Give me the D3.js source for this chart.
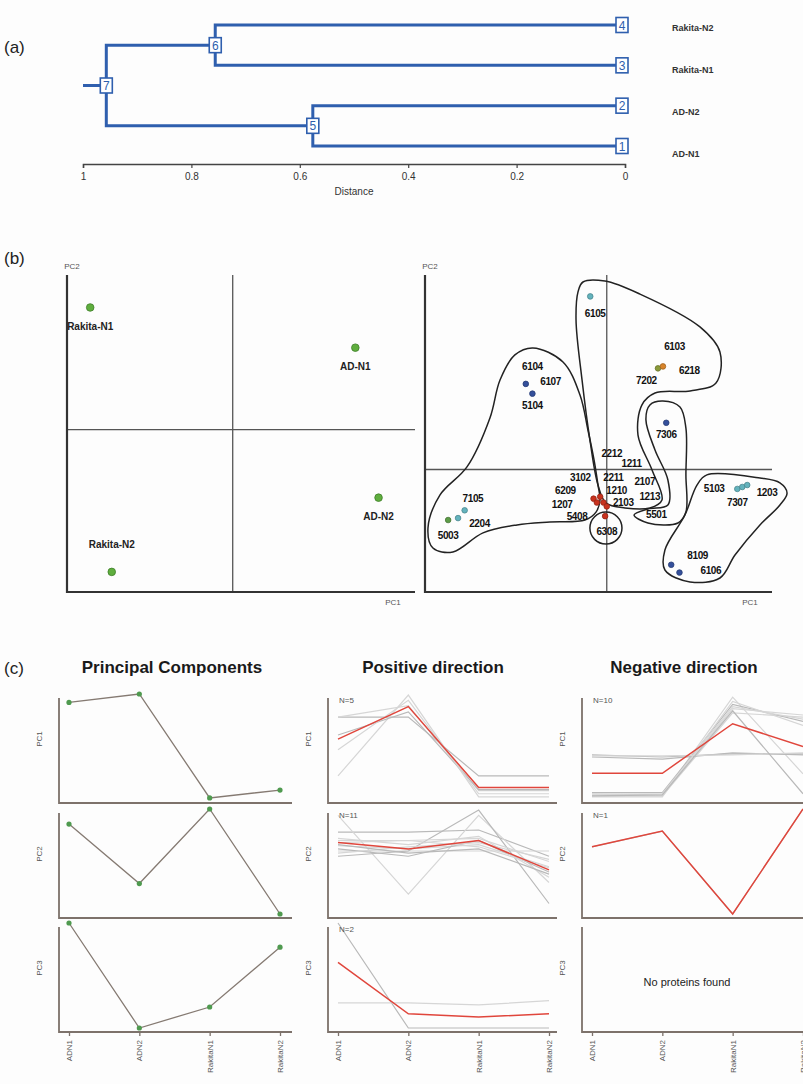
<!DOCTYPE html>
<html>
<head>
<meta charset="utf-8">
<script src="https://cdn.jsdelivr.net/npm/d3@7"></script>
<style>
  body { margin: 0; background: #fff; }
  text { font-family: "Liberation Sans", Arial, sans-serif; }
</style>
</head>
<body>
<svg id="fig" width="803" height="1084"></svg>
<script>
// ---------- (a) dendrogram data
const leafNames = ["Rakita-N2", "Rakita-N1", "AD-N2", "AD-N1"];
const leafIds = [4, 3, 2, 1];
const mergeIds = [5, 6, 7];
const mergeLeft = [2, 4, 6];
const mergeRight = [1, 3, 5];
const mergeHeight = [0.576, 0.756, 0.957];
const distTicks = [1, 0.8, 0.6, 0.4, 0.2, 0];

// ---------- (b) sample PCA
const sampleNames = ["Rakita-N1", "AD-N1", "AD-N2", "Rakita-N2"];
const samplePC1 = [-0.86, 0.74, 0.88, -0.73];
const samplePC2 = [0.79, 0.53, -0.44, -0.92];
const sampleLabelDy = [20, 19, 19, -27];

// ---------- (b) protein spot PCA
const spotPC1 = [-0.10, -0.49, -0.45, 0.31, 0.34, 0.36, -0.86, -0.90, -0.96, -0.08, -0.04, -0.02, -0.06, 0.00, -0.01, 0.79, 0.82, 0.85, 0.39, 0.44];
const spotPC2 = [0.89, 0.44, 0.39, 0.52, 0.53, 0.24, -0.21, -0.25, -0.26, -0.15, -0.14, -0.17, -0.17, -0.19, -0.24, -0.10, -0.09, -0.08, -0.49, -0.53];
const spotGroup = ["cyan", "blue", "blue", "olive", "orange", "blue", "cyan", "cyan", "green", "red", "red", "red", "red", "red", "red", "cyan", "cyan", "cyan", "blue", "blue"];
const spotLabels = ["6105", "6104", "6107", "5104", "6103", "6218", "7202", "7306", "7105", "2204", "5003", "2212", "1211", "3102", "2211", "2107", "6209", "1210", "1213", "1207", "2103", "5408", "5501", "6308", "5103", "1203", "7307", "8109", "6106"];
const spotLabelPC1 = [-0.07, -0.45, -0.34, -0.45, 0.41, 0.50, 0.24, 0.36, -0.81, -0.77, -0.96, 0.03, 0.15, -0.16, 0.04, 0.23, -0.25, 0.06, 0.26, -0.27, 0.10, -0.18, 0.30, 0.00, 0.65, 0.97, 0.79, 0.55, 0.63];
const spotLabelPC2 = [0.80, 0.53, 0.45, 0.33, 0.63, 0.51, 0.46, 0.18, -0.15, -0.28, -0.34, 0.08, 0.03, -0.04, -0.04, -0.06, -0.11, -0.11, -0.14, -0.18, -0.17, -0.24, -0.23, -0.32, -0.10, -0.12, -0.17, -0.44, -0.52];

// hand drawn cluster outlines (PC1, PC2)
const outlineLeft = [[-0.447,0.625],[-0.265,0.553],[-0.162,0.383],[-0.114,0.203],[-0.077,0.049],[-0.053,-0.080],[-0.041,-0.157],[-0.065,-0.219],[-0.132,-0.260],[-0.344,-0.270],[-0.543,-0.285],[-0.749,-0.326],[-0.931,-0.424],[-1.052,-0.404],[-1.082,-0.301],[-1.009,-0.131],[-0.846,0.013],[-0.707,0.265],[-0.646,0.460],[-0.556,0.589]];
const outlineTop = [[-0.174,0.913],[-0.144,0.964],[-0.011,0.969],[0.201,0.902],[0.564,0.733],[0.685,0.604],[0.661,0.445],[0.504,0.404],[0.292,0.393],[0.213,0.332],[0.189,0.177],[0.274,-0.003],[0.334,-0.157],[0.261,-0.198],[0.110,-0.198],[-0.005,-0.172],[-0.053,-0.080],[-0.102,0.152],[-0.150,0.463],[-0.186,0.769]];
const outlineMid = [[0.340,0.352],[0.443,0.321],[0.479,0.213],[0.479,-0.028],[0.479,-0.219],[0.431,-0.275],[0.249,-0.275],[0.165,-0.234],[0.249,-0.203],[0.370,-0.183],[0.370,-0.054],[0.292,0.100],[0.237,0.255],[0.261,0.332]];
const outlineRight = [[0.606,-0.028],[0.927,-0.044],[1.048,-0.069],[1.091,-0.121],[1.048,-0.183],[0.927,-0.285],[0.776,-0.440],[0.685,-0.558],[0.504,-0.578],[0.352,-0.517],[0.352,-0.414],[0.473,-0.234],[0.546,-0.080]];
const ringCentre = [-0.005, -0.301];
const ringRadius = 0.097;

// ---------- (c) profiles
const conditions = ["ADN1", "ADN2", "RakitaN1", "RakitaN2"];
const pcNames = ["PC1", "PC2", "PC3"];
const pcProfiles = [[0.92, 1.0, 0.01, 0.085], [0.856, 0.29, 1.0, 0.0], [1.0, 0.0, 0.2, 0.77]];
const posCounts = [5, 11, 2];
const posMean = [[0.57, 0.88, 0.11, 0.11], [0.68, 0.62, 0.70, 0.42], [0.625, 0.135, 0.105, 0.135]];
const posMembers = [
  [[0.78,0.78,0.22,0.22],[0.22,0.99,0.02,0.02],[0.78,0.89,0.08,0.08],[0.61,0.83,0.09,0.09],[0.47,0.94,0.05,0.05]],
  [[0.78,0.78,0.80,0.55],[0.60,0.60,0.60,0.60],[0.94,0.19,0.94,0.30],[0.55,0.60,0.99,0.10],[0.70,0.70,0.72,0.50],[0.65,0.62,0.66,0.45],[0.62,0.55,0.70,0.40],[0.72,0.66,0.74,0.35],[0.58,0.64,0.68,0.52],[0.66,0.58,0.62,0.38],[0.68,0.70,0.64,0.44]],
  [[1.0,0.0,0.0,0.0],[0.24,0.24,0.22,0.26]]
];
const negCounts = [10, 1, 0];
const negMean = [[0.245, 0.245, 0.717, 0.50], [0.64, 0.79, 0.0, 1.0], null];
const negMembers = [
  [[0.42,0.40,0.43,0.43],[0.03,0.03,0.97,0.24],[0.03,0.03,0.82,0.78],[0.06,0.06,0.90,0.74],[0.05,0.04,0.86,0.80],[0.02,0.02,0.93,0.70],[0.40,0.38,0.44,0.42],[0.04,0.05,0.88,0.76],[0.41,0.41,0.42,0.44],[0.03,0.04,0.84,0.05]],
  [[0.64,0.79,0.0,1.0]],
  []
];

const svg = d3.select("#fig");
svg.append("rect").attr("width", 803).attr("height", 1084).attr("fill", "#fdfdfd");

const panelLetter = (txt, x, y) => svg.append("text").attr("x", x).attr("y", y)
  .attr("font-size", 17).attr("fill", "#222").text(txt);
panelLetter("(a)", 4, 53);
panelLetter("(b)", 4, 264);
panelLetter("(c)", 4, 674);

// ================= (a)
const blue = "#2f5fae";
const xD = d3.scaleLinear().domain([1, 0]).range([83, 625]);
const yD = d3.scalePoint().domain(leafIds).range([25, 146]);
const yLab = d3.scalePoint().domain(leafIds).range([27, 153]);
const nodes = new Map();
leafIds.forEach(id => nodes.set(id, { x: xD(0), y: yD(id) }));
mergeIds.forEach((id, i) => {
  const a = nodes.get(mergeLeft[i]), b = nodes.get(mergeRight[i]);
  nodes.set(id, { x: xD(mergeHeight[i]), y: (a.y + b.y) / 2 });
});
const gA = svg.append("g");
mergeIds.forEach((id, i) => {
  const n = nodes.get(id), a = nodes.get(mergeLeft[i]), b = nodes.get(mergeRight[i]);
  gA.append("path").attr("d", `M${a.x},${a.y}H${n.x}V${b.y}H${b.x}`)
    .attr("fill", "none").attr("stroke", blue).attr("stroke-width", 3);
});
const root = nodes.get(7);
gA.append("line").attr("x1", xD(1)).attr("x2", root.x).attr("y1", root.y).attr("y2", root.y)
  .attr("stroke", blue).attr("stroke-width", 3);
nodes.forEach((n, id) => {
  const cx = leafIds.includes(id) ? n.x - 3 : n.x;
  gA.append("rect").attr("x", cx - 6).attr("y", n.y - 7.5).attr("width", 12).attr("height", 15)
    .attr("fill", "#fff").attr("stroke", blue).attr("stroke-width", 1.6);
  gA.append("text").attr("x", cx).attr("y", n.y + 4.5).attr("text-anchor", "middle")
    .attr("font-size", 12).attr("fill", blue).text(id);
});
leafIds.forEach((id, i) => {
  gA.append("text").attr("x", 672).attr("y", yLab(id) + 3.5)
    .attr("font-family", "DejaVu Sans Condensed").attr("font-weight", "bold")
    .attr("font-size", 9).attr("fill", "#333").text(leafNames[i]);
});
const axA = gA.append("g").attr("transform", "translate(0,164)")
  .call(d3.axisBottom(xD).tickValues(distTicks).tickSize(4).tickFormat(d3.format("~g")));
axA.select(".domain").attr("stroke", "#444").attr("stroke-width", 1.5);
axA.selectAll(".tick line").attr("stroke", "#444").attr("stroke-width", 1.2);
axA.selectAll(".tick text").attr("font-family", "DejaVu Sans Mono").attr("font-size", 10).attr("fill", "#333").attr("dy", "0.9em");
gA.append("text").attr("x", 354).attr("y", 195).attr("text-anchor", "middle")
  .attr("font-family", "DejaVu Sans Mono").attr("font-size", 10).attr("fill", "#333").text("Distance");

// ================= (b) left
function pcaFrame(x, y, left, right, top, bottom) {
  const g = svg.append("g");
  g.append("line").attr("x1", x(0)).attr("x2", x(0)).attr("y1", top).attr("y2", bottom).attr("stroke", "#555").attr("stroke-width", 1.3);
  g.append("line").attr("x1", left).attr("x2", right).attr("y1", y(0)).attr("y2", y(0)).attr("stroke", "#555").attr("stroke-width", 1.3);
  g.append("path").attr("d", `M${left},${top}V${bottom}H${right}`).attr("fill", "none").attr("stroke", "#333").attr("stroke-width", 2.2);
  g.append("text").attr("x", left + 5).attr("y", top - 6).attr("text-anchor", "middle")
    .attr("font-family", "DejaVu Sans Condensed").attr("font-size", 8).attr("fill", "#555").text("PC2");
  g.append("text").attr("x", right - 22).attr("y", bottom + 13).attr("text-anchor", "middle")
    .attr("font-family", "DejaVu Sans Condensed").attr("font-size", 8).attr("fill", "#555").text("PC1");
  return g;
}
const xL = d3.scaleLinear().domain([-1, 1.1]).range([67, 415]);
const yL = d3.scaleLinear().domain([-1.05, 1]).range([592, 275]);
const gL = pcaFrame(xL, yL, 67, 415, 275, 592);
sampleNames.forEach((s, i) => {
  gL.append("circle").attr("cx", xL(samplePC1[i])).attr("cy", yL(samplePC2[i])).attr("r", 3.8)
    .attr("fill", "#5fae3e").attr("stroke", "#3f7f2a").attr("stroke-width", 0.8);
  gL.append("text").attr("x", xL(samplePC1[i])).attr("y", yL(samplePC2[i]) + sampleLabelDy[i] + 3)
    .attr("text-anchor", "middle").attr("font-family", "DejaVu Sans Condensed").attr("font-weight", "bold")
    .attr("font-size", 10).attr("fill", "#222").text(s);
});

// ================= (b) right
const spotColours = { cyan: "#63b3bd", blue: "#34509c", olive: "#8a9a3a", orange: "#d8842a", green: "#5d9c48", red: "#c8321e" };
const xR = d3.scaleLinear().domain([-1.1, 1.0]).range([425, 772]);
const yR = d3.scaleLinear().domain([-0.63, 1.0]).range([592, 275]);
const gR = pcaFrame(xR, yR, 425, 772, 275, 592);
const outlineLine = d3.line().x(d => xR(d[0])).y(d => yR(d[1])).curve(d3.curveCatmullRomClosed.alpha(0.5));
[outlineLeft, outlineTop, outlineMid, outlineRight].forEach(o => {
  gR.append("path").attr("d", outlineLine(o)).attr("fill", "none").attr("stroke", "#222").attr("stroke-width", 1.5);
});
gR.append("circle").attr("cx", xR(ringCentre[0])).attr("cy", yR(ringCentre[1]))
  .attr("r", xR(ringRadius) - xR(0)).attr("fill", "none").attr("stroke", "#222").attr("stroke-width", 1.5);
spotPC1.forEach((v, i) => {
  const c = d3.color(spotColours[spotGroup[i]]);
  gR.append("circle").attr("cx", xR(v)).attr("cy", yR(spotPC2[i])).attr("r", 2.8)
    .attr("fill", c).attr("stroke", c.darker(0.8)).attr("stroke-width", 0.8);
});
spotLabels.forEach((s, i) => {
  gR.append("text").attr("x", xR(spotLabelPC1[i])).attr("y", yR(spotLabelPC2[i]) + 3.5)
    .attr("text-anchor", "middle").attr("font-family", "DejaVu Sans Condensed").attr("font-weight", "bold")
    .attr("font-size", 10).attr("letter-spacing", -0.4).attr("fill", "#111").text(s);
});

// ================= (c)
const colAxisX = [59, 328, 582];
const colEnd = [292, 557, 810];
const colTitle = ["Principal Components", "Positive direction", "Negative direction"];
const colTitleX = [172, 433, 684];
const rowTop = [694, 809, 923];
const axisCol = "#7d726b";

colAxisX.forEach((ax, c) => {
  svg.append("text").attr("x", colTitleX[c]).attr("y", 673).attr("text-anchor", "middle")
    .attr("font-weight", "bold").attr("font-size", 17).attr("fill", "#1a1a1a").text(colTitle[c]);
  const xs = d3.scalePoint().domain(conditions).range([ax + 10, ax + 221]);
  rowTop.forEach((top, r) => {
    const ys = d3.scaleLinear().domain([0, 1]).range([top + 105, top]);
    const g = svg.append("g");
    const line = d3.line().x((d, i) => xs(conditions[i])).y(d => ys(d));
    if (c === 0) {
      g.append("path").attr("d", line(pcProfiles[r])).attr("fill", "none").attr("stroke", "#857a72").attr("stroke-width", 1.3);
      pcProfiles[r].forEach((v, i) => g.append("circle").attr("cx", xs(conditions[i])).attr("cy", ys(v)).attr("r", 2.6).attr("fill", "#4f9a4f"));
    } else {
      const members = c === 1 ? posMembers[r] : negMembers[r];
      const mean = c === 1 ? posMean[r] : negMean[r];
      const n = c === 1 ? posCounts[r] : negCounts[r];
      members.forEach((m, k) => {
        g.append("path").attr("d", line(m)).attr("fill", "none")
          .attr("stroke", k % 3 === 0 ? "#b9b9b9" : "#d6d6d6").attr("stroke-width", 1.2);
      });
      if (mean) g.append("path").attr("d", line(mean)).attr("fill", "none").attr("stroke", "#e0463c").attr("stroke-width", 1.5);
      if (n > 0) {
        g.append("text").attr("x", ax + 11).attr("y", top + 9).attr("font-family", "DejaVu Sans Condensed")
          .attr("font-size", 8).attr("fill", "#555").text("N=" + n);
      } else {
        g.append("text").attr("x", ax + 105).attr("y", top + 63).attr("text-anchor", "middle")
          .attr("font-family", "DejaVu Sans").attr("font-size", 11).attr("fill", "#222").text("No proteins found");
      }
    }
    g.append("path").attr("d", `M${ax},${top + 4}V${top + 109}H${colEnd[c]}`)
      .attr("fill", "none").attr("stroke", axisCol).attr("stroke-width", 1.8);
    g.append("text").attr("transform", `translate(${ax - 17},${top + 45}) rotate(-90)`)
      .attr("text-anchor", "middle").attr("font-family", "DejaVu Sans Condensed")
      .attr("font-size", 8).attr("fill", "#555").text(pcNames[r]);
    if (r === 2) {
      const axB = g.append("g").attr("transform", `translate(0,${top + 109})`)
        .call(d3.axisBottom(xs).tickSize(4).tickSizeOuter(0));
      axB.select(".domain").remove();
      axB.selectAll(".tick line").attr("stroke", axisCol).attr("stroke-width", 1.3);
      axB.selectAll(".tick text").attr("transform", "rotate(-90)").attr("text-anchor", "end")
        .attr("x", -8).attr("y", 0).attr("dy", "0.32em")
        .attr("font-family", "DejaVu Sans Condensed").attr("font-size", 8).attr("fill", "#555");
    }
  });
});
</script>
</body>
</html>
